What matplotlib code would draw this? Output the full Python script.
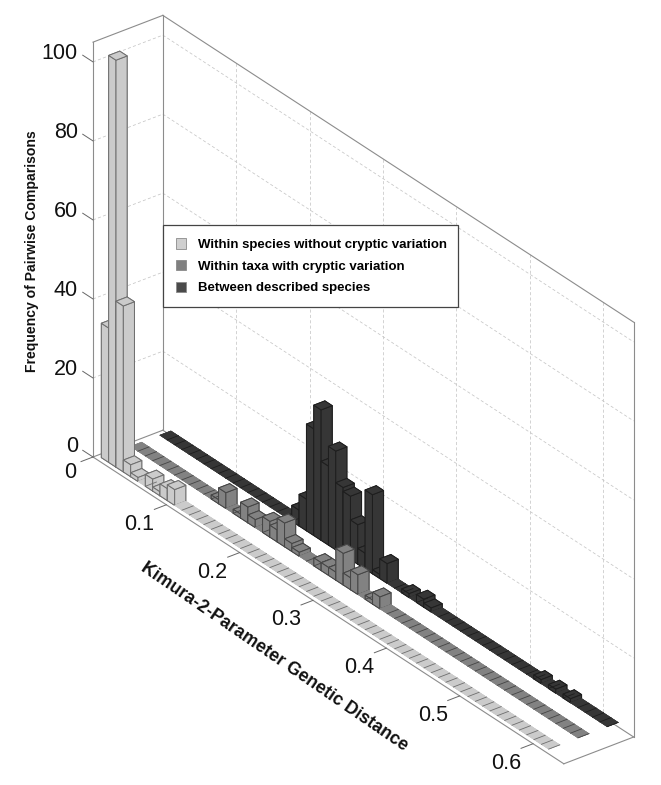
import numpy as np
import matplotlib
matplotlib.use("Agg")
import matplotlib.pyplot as plt
from matplotlib.patches import Patch, Rectangle
from mpl_toolkits.mplot3d import proj3d

plt.rcParams['font.family'] = ['Liberation Sans', 'DejaVu Sans']

# bin index 1..61 -> distance 0.01..0.61; only non-zero bins are listed
BIN = 0.01
N_BINS = 61
light_bins = {1: 34, 2: 103, 3: 42, 4: 3, 5: 1, 7: 3, 8: 1, 9: 3, 10: 4}
mid_bins = {12: 1, 13: 4, 15: 1, 16: 4, 17: 2, 19: 4, 20: 3, 21: 6, 22: 2, 23: 1,
            26: 2, 27: 2, 28: 2, 29: 8, 30: 3, 31: 5, 33: 1, 34: 3}
dark_bins = {19: 4, 20: 8, 21: 27, 22: 33, 23: 20, 24: 25, 25: 17, 26: 16, 27: 10,
             28: 4, 29: 20, 30: 1, 31: 5, 34: 1, 36: 2, 37: 1, 52: 1, 54: 1, 56: 1}
series_names = ["Within species without cryptic variation",
                "Within taxa with cryptic variation",
                "Between described species"]
series_colors = ["#cbcbcb", "#828282", "#363636"]
edge_colors = ["#6e6e6e", "#454545", "#1e1e1e"]
legend_colors = ["#cfcfcf", "#808080", "#4a4a4a"]
series_bins = [light_bins, mid_bins, dark_bins]
x_ticks = [0.1, 0.2, 0.3, 0.4, 0.5, 0.6]
z_ticks = [0, 20, 40, 60, 80, 100]
x_label = "Kimura-2-Parameter Genetic Distance"
z_label = "Frequency of Pairwise Comparisons"

W, H = 661, 785
XMIN, XMAX, YMIN, YMAX, ZMIN, ZMAX = 0, 0.642, 0.65, 3.04, 0, 105
BAR_DY = 0.38

fig = plt.figure(figsize=(W / 100, H / 100), dpi=100, facecolor="white")
ax = fig.add_axes([0.1, 0.1, 0.8, 0.8], projection="3d", proj_type="ortho",
                  computed_zorder=False)
ax.view_init(elev=30, azim=-37.5)
ax.set_box_aspect((775, 88.2, 480), zoom=1)
ax.set_xlim(XMIN, XMAX, view_margin=0)
ax.set_ylim(YMIN, YMAX, view_margin=0)
ax.set_zlim(ZMIN, ZMAX, view_margin=0)
ax.set_axis_off()
ax.patch.set_visible(False)


def to_px(x, y, z):
    px, py, _ = proj3d.proj_transform(x, y, z, ax.get_proj())
    return ax.transData.transform((px, py))


# fit the plot box onto the reference's pixel frame
target_A = np.array([93.0, H - 457.0])
target_B = np.array([565.0, H - 762.0])
for _ in range(4):
    fig.canvas.draw()
    a = to_px(XMIN, YMIN, ZMIN)
    b = to_px(XMAX, YMIN, ZMIN)
    s = np.linalg.norm(target_B - target_A) / np.linalg.norm(b - a)
    pos = ax.get_position()
    side = pos.width * W * s
    cx, cy = (pos.x0 + pos.width / 2) * W, (pos.y0 + pos.height / 2) * H
    cx = target_A[0] + (cx - a[0]) * s
    cy = target_A[1] + (cy - a[1]) * s
    ax.set_position([(cx - side / 2) / W, (cy - side / 2) / H, side / W, side / H])
fig.canvas.draw()

BOX = dict(color="#8c8c8c", lw=0.8, zorder=2)
GRID = dict(color="#c6c6c6", lw=0.55, ls=(0, (4, 3)), zorder=1)
TICK = dict(color="#666666", lw=0.7, zorder=2)

# plot box
ax.plot([XMIN, XMAX], [YMIN, YMIN], [ZMIN, ZMIN], **BOX)
ax.plot([XMAX, XMAX], [YMIN, YMAX], [ZMIN, ZMIN], **BOX)
ax.plot([XMIN, XMIN], [YMIN, YMAX], [ZMIN, ZMIN], **BOX)
ax.plot([XMIN, XMAX], [YMAX, YMAX], [ZMIN, ZMIN], **BOX)
ax.plot([XMIN, XMIN], [YMIN, YMIN], [ZMIN, ZMAX], **BOX)
ax.plot([XMIN, XMIN], [YMAX, YMAX], [ZMIN, ZMAX], **BOX)
ax.plot([XMAX, XMAX], [YMAX, YMAX], [ZMIN, ZMAX], **BOX)
ax.plot([XMIN, XMIN], [YMIN, YMAX], [ZMAX, ZMAX], **BOX)
ax.plot([XMIN, XMAX], [YMAX, YMAX], [ZMAX, ZMAX], **BOX)

# wall grid
for z in z_ticks[1:]:
    ax.plot([XMIN, XMIN], [YMIN, YMAX], [z, z], **GRID)
    ax.plot([XMIN, XMAX], [YMAX, YMAX], [z, z], **GRID)
for x in x_ticks:
    ax.plot([x, x], [YMAX, YMAX], [ZMIN, ZMAX], **GRID)


def tick_label(base_px, text, dx, dy):
    fig.text((base_px[0] + dx) / W, (base_px[1] - dy) / H, text, fontsize=15.5,
             ha="right", va="center", color="#111111")


# ticks and tick labels
for x in [0] + x_ticks:
    ax.plot([x, x], [YMIN, YMIN - 0.41], [ZMIN, ZMIN], **TICK)
    base = to_px(x, YMIN, ZMIN)
    tick_label(base, f"{x:g}", -17 if x == 0 else -12, 15 if x == 0 else 19.5)
for z in z_ticks:
    ax.plot([XMIN, XMIN - 0.014], [YMIN, YMIN], [z, z], **TICK)
    base = to_px(XMIN, YMIN, z)
    tick_label(base, f"{z}", -15, -11 if z == 0 else -8.5)

# bars, back row first and left to right so nearer bars paint over farther ones
order = 10
for row in [2, 1, 0]:
    bins = series_bins[row]
    yc = row + 1
    for i in range(1, N_BINS + 1):
        h = bins.get(i, 0)
        xc = i * BIN
        ax.bar3d(xc - BIN / 2, yc - BAR_DY / 2, 0, BIN, BAR_DY, h,
                 color=series_colors[row],
                 edgecolor=edge_colors[row] if h else series_colors[row],
                 linewidth=0.7 if h else 0.3, shade=False, zorder=order)
        if h == 0:
            # divider painted after the neighbouring bin so that it stays visible
            ax.plot([xc + BIN / 2] * 2, [yc - BAR_DY / 2, yc + BAR_DY / 2], [0, 0],
                    color=edge_colors[row], lw=0.6, zorder=order + 2.5)
        order += 2

# axis titles
fig.text(32 / W, 1 - 251 / H, z_label, rotation=90, fontsize=10.1, fontweight="bold",
         ha="center", va="center", color="#111111")
fig.text(274.5 / W, 1 - 657 / H, x_label, rotation=-34.5, fontsize=12.8, fontweight="bold",
         ha="center", va="center", rotation_mode="anchor", color="#111111")

# legend frame spans the reference's box; the legend's own padding is symmetric
fig.add_artist(Rectangle((163 / W, 1 - 307 / H), 294.5 / W, 82.5 / H,
                         transform=fig.transFigure, facecolor="white",
                         edgecolor="#444444", linewidth=0.9, zorder=999))
handles = [Patch(facecolor=c, edgecolor="#8a8a8a", linewidth=0.6) for c in legend_colors]
leg = fig.legend(handles, series_names, loc="upper left",
                 bbox_to_anchor=(163 / W, 1 - 225.5 / H), bbox_transform=fig.transFigure,
                 frameon=False, prop=dict(weight="bold", size=9.5),
                 handlelength=0.8, handleheight=0.8,
                 handletextpad=0.87, borderpad=0.98, labelspacing=0.68, borderaxespad=0)
leg.set_zorder(1000)

fig.savefig("out.png", dpi=100, facecolor="white")
